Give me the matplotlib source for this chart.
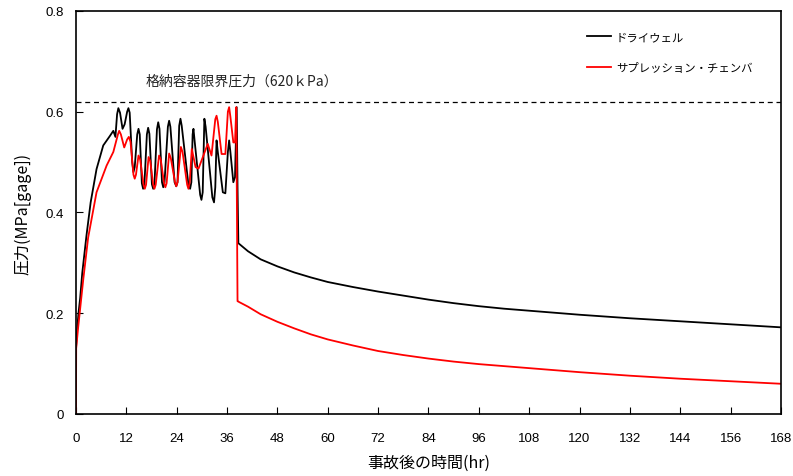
import matplotlib.pyplot as plt
from matplotlib.ticker import FuncFormatter

plt.rcParams['font.family'] = ['Noto Sans CJK JP', 'DejaVu Sans']

# drywell pressure (black), hours / MPa[gage]
dw_t = [0, 0.3, 0.6, 1.0, 1.5, 2.5, 3.5, 4.9, 6.5, 8.1, 8.9, 9.4, 9.8, 10.1, 10.5, 11.1, 11.6, 12.2, 12.5, 12.8,
        13.4, 13.7, 14.0, 14.6, 14.9, 15.2, 15.7, 16.0, 16.3, 16.9, 17.2, 17.5,
        18.1, 18.4, 18.7, 19.3, 19.6, 19.9, 20.5, 20.8, 21.1, 21.9, 22.2, 22.5,
        23.5, 23.9, 24.2, 24.6, 24.9, 25.2, 26.8, 27.2, 27.5, 27.8, 28.0, 28.3,
        29.6, 29.9, 30.2, 30.6, 30.9, 32.5, 32.9, 33.2, 33.5, 33.8, 35.0, 35.6, 36.2, 36.5, 36.8,
        37.5, 37.9, 38.3, 38.5, 38.7,
        41, 44, 48, 52, 56, 60, 66, 72, 78, 84, 90, 96, 102, 108, 114, 120, 132, 144, 156, 168]
dw_p = [0.13, 0.17, 0.20, 0.23, 0.28, 0.354, 0.42, 0.486, 0.533, 0.552, 0.562, 0.55, 0.595, 0.607, 0.598, 0.566, 0.575, 0.600, 0.607, 0.598,
        0.50, 0.48, 0.49, 0.555, 0.566, 0.555, 0.458, 0.447, 0.455, 0.555, 0.568, 0.556,
        0.456, 0.447, 0.456, 0.565, 0.579, 0.566, 0.46, 0.45, 0.46, 0.570, 0.582, 0.570,
        0.46, 0.452, 0.46, 0.572, 0.586, 0.572, 0.455, 0.447, 0.46, 0.555, 0.566, 0.54,
        0.435, 0.425, 0.44, 0.586, 0.57, 0.43, 0.42, 0.45, 0.543, 0.52, 0.44, 0.438, 0.52, 0.543, 0.52,
        0.46, 0.47, 0.609, 0.45, 0.339,
        0.323, 0.307, 0.293, 0.281, 0.271, 0.262, 0.252, 0.243, 0.235, 0.227, 0.220, 0.214, 0.209, 0.205, 0.201, 0.197, 0.190, 0.184, 0.178, 0.172]

# suppression chamber pressure (red)
sc_t = [0, 0.05, 0.5, 1.75, 2.9, 4.9, 7.3, 8.9, 10.0, 10.3, 10.7, 11.5, 12.2, 12.6, 13.0,
        13.7, 14.0, 14.3, 14.9, 15.3, 16.1, 16.4, 16.7, 17.3, 17.7,
        18.4, 18.7, 19.0, 19.8, 20.2, 21.0, 21.3, 21.6, 22.2, 22.6,
        23.6, 23.9, 24.2, 25.0, 25.4, 26.5, 26.8, 27.1, 27.6, 28.5, 29.2,
        31.4, 32.3, 33.2, 33.5, 33.8, 34.7, 35.6, 36.2, 36.5, 36.8, 37.5, 37.9, 38.2, 38.5, 38.7,
        41, 44, 48, 52, 56, 60, 66, 72, 78, 84, 90, 96, 102, 108, 114, 120, 132, 144, 156, 168]
sc_p = [0.0, 0.13, 0.17, 0.268, 0.35, 0.44, 0.493, 0.52, 0.555, 0.562, 0.555, 0.529, 0.545, 0.55, 0.54,
        0.475, 0.467, 0.475, 0.513, 0.505, 0.455, 0.447, 0.455, 0.51, 0.502,
        0.455, 0.447, 0.455, 0.513, 0.505, 0.458, 0.45, 0.458, 0.517, 0.508,
        0.46, 0.452, 0.46, 0.53, 0.52, 0.455, 0.447, 0.46, 0.526, 0.49, 0.487,
        0.536, 0.513, 0.585, 0.592, 0.58, 0.516, 0.516, 0.60, 0.609, 0.59, 0.539, 0.539, 0.609, 0.224, 0.223,
        0.213, 0.198, 0.183, 0.170, 0.158, 0.148, 0.136, 0.125, 0.117, 0.110, 0.104, 0.099, 0.095, 0.091, 0.087, 0.083, 0.076, 0.070, 0.065, 0.060]

limit_p = 0.62
x_ticks = list(range(0, 169, 12))
y_ticks = [0, 0.2, 0.4, 0.6, 0.8]

fig = plt.figure(figsize=(7.93, 4.77), dpi=100)
ax = fig.add_axes([0.0958, 0.130, 0.889, 0.845])

ax.plot(dw_t, dw_p, color='black', lw=1.3, label='ドライウェル')
ax.plot(sc_t, sc_p, color='red', lw=1.3, label='サプレッション・チェンバ')
ax.axhline(limit_p, color='black', lw=0.9, ls=(0, (4, 3)))
ax.text(16.5, 0.653, '格納容器限界圧力（620ｋPa）', fontsize=10, color='#222222')

ax.set_xlim(0, 168)
ax.set_ylim(0, 0.8)
ax.set_xticks(x_ticks)
ax.set_yticks(y_ticks)
ax.yaxis.set_major_formatter(FuncFormatter(lambda v, p: '0' if v == 0 else f'{v:g}'))
ax.tick_params(direction='in', labelsize=9.5, length=5)
ax.tick_params(axis='x', pad=13)
ax.tick_params(axis='y', pad=9)
for lab in ax.get_xticklabels() + ax.get_yticklabels():
    lab.set_family(['Liberation Sans', 'DejaVu Sans'])
for s in ax.spines.values():
    s.set_linewidth(1.2)

ax.set_xlabel('事故後の時間(hr)', fontsize=11.5, labelpad=7)
ax.set_ylabel('圧力(MPa[gage])', fontsize=11.5, labelpad=10)

ax.legend(loc='upper left', bbox_to_anchor=(0.711, 0.973), frameon=False,
          fontsize=8.2, handlelength=2.1, handletextpad=0.4, labelspacing=1.75)

plt.savefig('out.png', dpi=100)
